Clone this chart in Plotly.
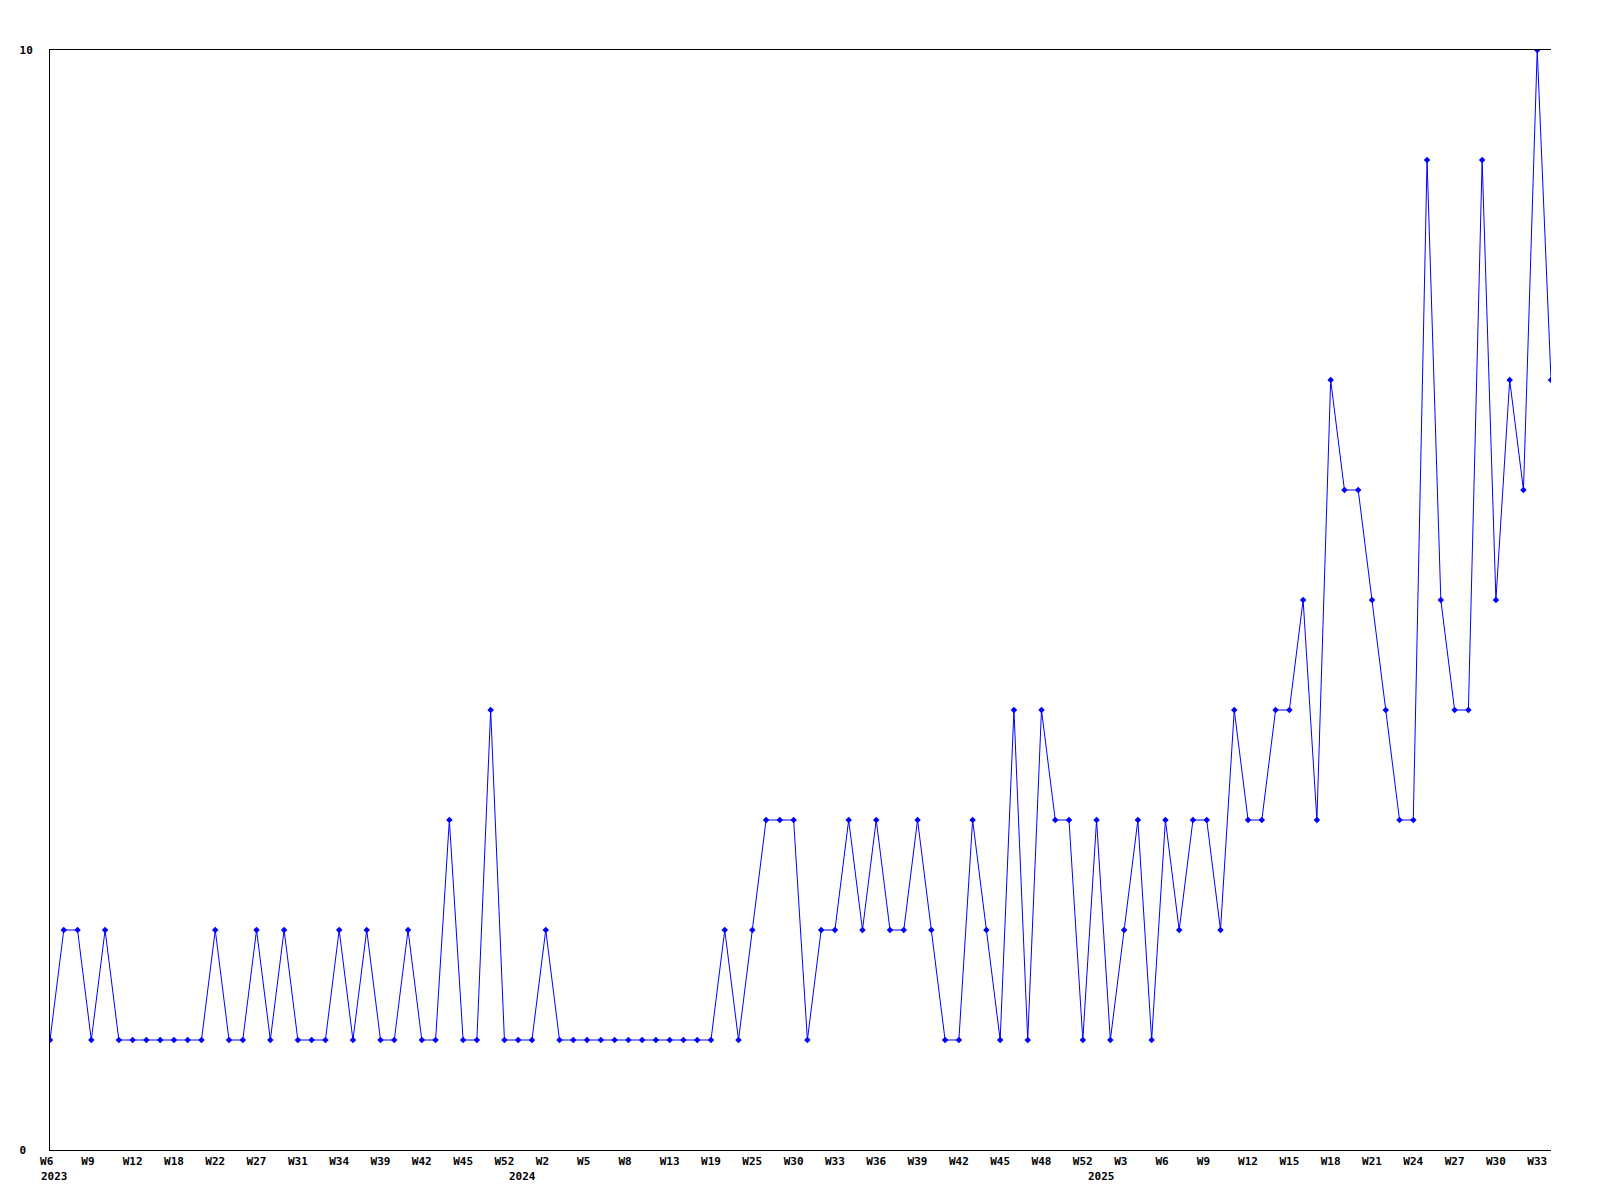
import plotly.graph_objects as go

# ---- data ----
values = [
    1, 2, 2, 1, 2, 1, 1, 1, 1, 1, 1, 1,
    2, 1, 1, 2, 1, 2, 1, 1, 1, 2, 1, 2,
    1, 1, 2, 1, 1, 3, 1, 1, 4, 1, 1, 1,
    2, 1, 1, 1, 1, 1, 1, 1, 1, 1, 1, 1,
    1, 2, 1, 2, 3, 3, 3, 1, 2, 2, 3, 2,
    3, 2, 2, 3, 2, 1, 1, 3, 2, 1, 4, 1,
    4, 3, 3, 1, 3, 1, 2, 3, 1, 3, 2, 3,
    3, 2, 4, 3, 3, 4, 4, 5, 3, 7, 6, 6,
    5, 4, 3, 3, 9, 5, 4, 4, 9, 5, 7, 6, 10, 7,
]
week_labels = [
    "W6", "W9", "W12", "W18", "W22", "W27", "W31", "W34", "W39", "W42", "W45", "W52",
    "W2", "W5", "W8", "W13", "W19", "W25", "W30", "W33", "W36", "W39", "W42", "W45",
    "W48", "W52", "W3", "W6", "W9", "W12", "W15", "W18", "W21", "W24", "W27", "W30", "W33",
]
week_label_step = 3
years = ["2023", "2024", "2025"]
year_start_index = [0, 34, 76]
y_ticks = [0, 10]

x = list(range(len(values)))
tickvals = list(range(0, len(values), week_label_step))[: len(week_labels)]
# labels in the original are left-aligned; pad to equal width in a monospace font
ticktext = [lbl.ljust(3, "\u00a0") for lbl in week_labels]

FONT = "DejaVu Sans Mono"

fig = go.Figure()
fig.add_trace(
    go.Scatter(
        x=x,
        y=values,
        mode="lines+markers",
        line=dict(color="#0000ff", width=1),
        marker=dict(symbol="diamond", size=5, color="#0000ff"),
        showlegend=False,
        hoverinfo="x+y",
    )
)

for yr, pos in zip(years, year_start_index):
    fig.add_annotation(
        x=pos, y=0, xref="x", yref="paper",
        text=yr, showarrow=False,
        xanchor="left", yanchor="top", yshift=-18, xshift=-11,
        font=dict(family=FONT, size=11, color="black", weight=700),
    )

fig.update_layout(
    width=1584,
    height=1184,
    margin=dict(l=42, r=41, t=42, b=42),
    plot_bgcolor="white",
    paper_bgcolor="white",
    font=dict(family=FONT, size=11, color="black", weight=700),
    xaxis=dict(
        range=[0, len(values) - 1],
        tickmode="array",
        tickvals=tickvals,
        ticktext=ticktext,
        showgrid=False,
        zeroline=False,
        showline=True,
        linecolor="black",
        linewidth=1,
        mirror=True,
        ticks="",
        ticklabelstandoff=1,
        tickfont=dict(family=FONT, size=11, color="black", weight=700),
    ),
    yaxis=dict(
        range=[0, 10],
        tickmode="array",
        tickvals=y_ticks,
        ticktext=[str(v) + ("\u00a0" if v < 10 else "") for v in y_ticks],
        showgrid=False,
        zeroline=False,
        showline=True,
        linecolor="black",
        linewidth=1,
        ticks="",
        ticklabelstandoff=14,
        tickfont=dict(family=FONT, size=11, color="black", weight=700),
    ),
)

fig.write_html("out.html")
